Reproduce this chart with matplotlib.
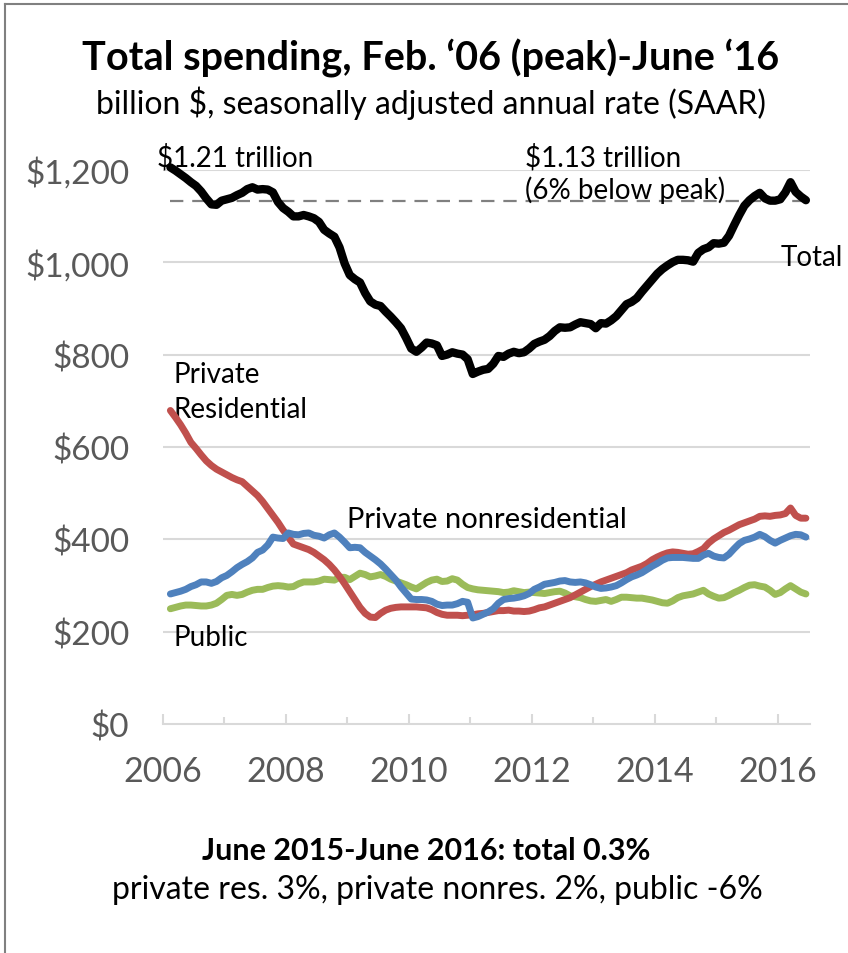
import numpy as np
import pandas as pd
import matplotlib
matplotlib.use("Agg")
import matplotlib.pyplot as plt
from matplotlib.lines import Line2D

plt.rcParams['font.family'] = ['Lato', 'DejaVu Sans']

# ---- data (billion $, SAAR), monthly Feb 2006 - Jun 2016 ----
dates = pd.date_range("2006-02-01", "2016-06-01", freq="MS")

total = [1205, 1198, 1190, 1182, 1173, 1165, 1153, 1138, 1125, 1124,
         1133, 1136, 1139, 1145, 1150, 1158, 1162, 1157, 1158, 1157,
         1151, 1130, 1117, 1109, 1099, 1099, 1102, 1099, 1095, 1087,
         1070, 1062, 1055, 1032, 997, 972, 963, 956, 933, 915,
         908, 905, 893, 882, 870, 857, 836, 813, 806, 815,
         826, 824, 820, 797, 800, 805, 802, 800, 790, 758,
         763, 767, 769, 780, 797, 795, 802, 806, 803, 805,
         813, 823, 828, 832, 840, 851, 859, 858, 859, 865,
         870, 868, 866, 857, 868, 867, 874, 883, 896, 909,
         914, 922, 936, 949, 962, 975, 985, 993, 1000, 1005,
         1005, 1004, 1001, 1020, 1028, 1032, 1041, 1040, 1042, 1057,
         1080, 1102, 1122, 1134, 1143, 1150, 1138, 1133, 1133, 1136,
         1151, 1173, 1152, 1142, 1134]

private_res = [679, 664, 648, 630, 610, 597, 583, 570, 560, 552,
               546, 540, 534, 529, 525, 515, 505, 495, 482, 467,
               452, 437, 420, 405, 390, 386, 382, 378, 372, 364,
               356, 346, 334, 320, 304, 287, 270, 253, 240, 232,
               231, 240, 247, 251, 253, 254, 254, 254, 254, 253,
               252, 248, 242, 238, 236, 236, 236, 235, 236, 237,
               239, 240, 242, 244, 246, 246, 247, 245, 245, 244,
               245, 248, 252, 254, 258, 262, 266, 270, 274, 280,
               286, 292, 298, 303, 308, 312, 316, 320, 324, 328,
               334, 338, 342, 348, 356, 362, 367, 371, 373, 372,
               370, 368, 369, 374, 380, 392, 401, 408, 415, 420,
               426, 432, 436, 440, 444, 450, 451, 450, 452, 453,
               456, 468, 452, 446, 446]

private_nonres = [282, 285, 288, 292, 298, 302, 308, 308, 305, 309,
                  317, 322, 330, 339, 346, 352, 360, 372, 377, 388,
                  405, 403, 402, 414, 411, 410, 413, 414, 409, 407,
                  403, 410, 414, 405, 394, 382, 383, 382, 372, 364,
                  356, 347, 336, 324, 312, 297, 284, 271, 270, 270,
                  269, 266, 260, 257, 258, 258, 261, 266, 264, 230,
                  233, 238, 243, 250, 262, 270, 272, 273, 275, 278,
                  283, 292, 297, 303, 305, 307, 310, 311, 308, 307,
                  308, 306, 302, 297, 294, 295, 297, 300, 306, 313,
                  319, 323, 328, 335, 342, 348, 355, 360, 361, 361,
                  361, 360, 359, 359, 366, 370, 364, 361, 360, 368,
                  380, 391, 398, 401, 405, 411, 406, 398, 392, 398,
                  403, 408, 411, 410, 405]

public = [250, 253, 256, 258, 258, 257, 256, 256, 258, 262,
          270, 279, 281, 279, 281, 286, 290, 292, 292, 296,
          299, 300, 299, 297, 298, 304, 308, 308, 308, 310,
          314, 313, 312, 318, 318, 313, 320, 327, 324, 319,
          321, 324, 320, 314, 310, 306, 302, 297, 293, 300,
          307, 312, 314, 309, 310, 315, 312, 303, 296, 293,
          291, 290, 289, 288, 287, 285, 286, 289, 287, 285,
          286, 285, 284, 283, 285, 287, 288, 284, 278, 276,
          274, 270, 267, 266, 268, 270, 266, 270, 275, 275,
          274, 273, 273, 271, 269, 266, 263, 262, 267, 274,
          278, 280, 282, 286, 290, 282, 277, 273, 274, 279,
          285, 290, 296, 301, 302, 299, 297, 290, 281, 285,
          293, 300, 293, 286, 282]

peak_now = 1133
yticks = [0, 200, 400, 600, 800, 1000, 1200]
ytick_labels = ["$0", "$200", "$400", "$600", "$800", "$1,000", "$1,200"]
xtick_years = [2006, 2008, 2010, 2012, 2014, 2016]

# decimal-year position of each month (mid-month)
x = dates.year + (dates.month - 0.5) / 12.0

# ---- figure ----
W, H = 848, 954
fig = plt.figure(figsize=(W / 100, H / 100), dpi=100)
ax = fig.add_axes([162.7 / W, 1 - 725.3 / H, (810 - 162.7) / W, (725.3 - 170.7) / H])

grid_c = "#D9D9D9"
for v in yticks[1:]:
    ax.axhline(v, color=grid_c, lw=1.5, zorder=1)

ax.plot(x, public, color="#9BBB59", lw=5.0, solid_capstyle="round", zorder=3)
ax.plot(x, private_nonres, color="#4F81BD", lw=5.0, solid_capstyle="round", zorder=4)
ax.plot(x, private_res, color="#C0504D", lw=5.0, solid_capstyle="round", zorder=3.5)
ax.plot([x[0], x[-1]], [peak_now, peak_now], color="#808080", lw=1.6,
        dashes=(6, 4), zorder=2)
ax.plot(x, total, color="black", lw=6.0, solid_capstyle="round", zorder=5, clip_on=False)

ax.set_xlim(2006, 2016 + (810 - 162.7) / 61.5 - 10)
ax.set_ylim(0, 1200)

for s in ["top", "right", "left"]:
    ax.spines[s].set_visible(False)
ax.spines["bottom"].set_color(grid_c)
ax.spines["bottom"].set_linewidth(1.5)

ax.set_yticks(yticks)
ax.set_yticklabels(ytick_labels)
ax.tick_params(axis="y", length=0, pad=24, labelsize=24, labelcolor="#595959")

ax.set_xticks(xtick_years)
ax.set_xticklabels([str(y) for y in xtick_years])
ax.set_xticks(list(range(2007, 2017, 2)), minor=True)
ax.tick_params(axis="x", which="major", direction="in", length=7, width=1.5,
               color=grid_c, pad=22, labelsize=24.5, labelcolor="#595959")
ax.tick_params(axis="x", which="minor", direction="in", length=5, width=1.5,
               color=grid_c)

lab = dict(fontsize=20, color="black", va="center", ha="left")
ax.text(2005.91, 1228, "$1.21 trillion", clip_on=False, **lab)
ax.text(2011.89, 1228, "$1.13 trillion", clip_on=False, **lab)
ax.text(2011.89, 1158, "(6% below peak)", clip_on=False, **lab)
ax.text(2016.04, 1011, "Total", clip_on=False, **lab)
ax.text(2006.17, 758, "Private", **lab)
ax.text(2006.17, 682, "Residential", **lab)
ax.text(2009.0, 444, "Private nonresidential", fontsize=21, color="black",
        va="center", ha="left")
ax.text(2006.17, 189, "Public", **lab)

fig.text(0.508, 1 - 58 / H, "Total spending, Feb. \u201806 (peak)-June \u201816",
         ha="center", va="center", fontsize=28.5, fontweight="bold")
fig.text(0.508, 1 - 103 / H, "billion $, seasonally adjusted annual rate (SAAR)",
         ha="center", va="center", fontsize=23)
fig.text(0.502, 1 - 851 / H, "June 2015-June 2016: total 0.3%",
         ha="center", va="center", fontsize=22, fontweight="bold")
fig.text(0.516, 1 - 890 / H, "private res. 3%, private nonres. 2%, public -6%",
         ha="center", va="center", fontsize=23)

# partial frame (left and top edges)
fig.add_artist(Line2D([5 / W, 5 / W], [0, 1 - 5 / H], transform=fig.transFigure,
                      color="#808080", lw=1.5))
fig.add_artist(Line2D([5 / W, 1], [1 - 5 / H, 1 - 5 / H], transform=fig.transFigure,
                      color="#808080", lw=1.5))

fig.savefig("out.png", dpi=100)
